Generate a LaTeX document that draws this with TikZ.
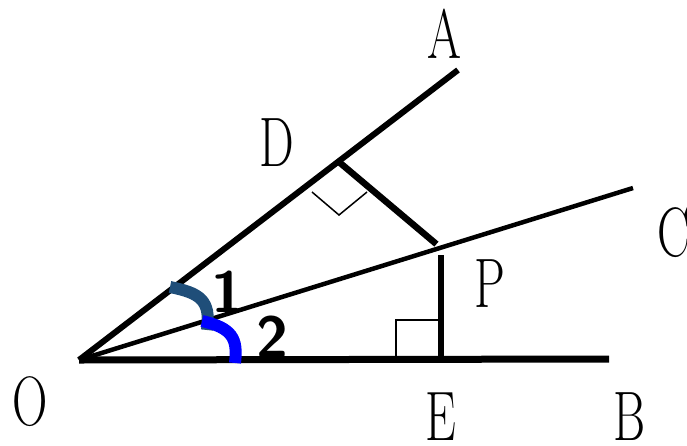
\documentclass[tikz,border=0pt]{standalone}
\usepackage{fontspec}
\usetikzlibrary{positioning}
\definecolor{arcdark}{HTML}{1F4E79}
\definecolor{arcblue}{HTML}{0000FF}

\begin{document}
\begin{tikzpicture}[x=1pt, y=-1pt,
    ray/.style={line width=6pt},
    seg/.style={line width=6.5pt},
    rangle/.style={line width=1.5pt},
    angarc/.style={line width=12pt},
    lbl/.style={font=\fontsize{70}{70}\selectfont, inner sep=0pt},
    num/.style={font=\fontsize{58}{58}\selectfont\sffamily\bfseries, inner sep=0pt}
]
    \useasboundingbox (0,0) rectangle (687,445);

    % points
    \coordinate (O) at (79, 360);
    \coordinate (A) at (458, 70);
    \coordinate (B) at (609, 359);
    \coordinate (C) at (633, 188);
    \coordinate (D) at (339, 162);
    \coordinate (P) at (441, 248);
    \coordinate (E) at (441, 359);

    % rays
    \draw[ray] (O) -- (A);
    \draw[line width=4.5pt] (O) -- (C);
    \draw[line width=7pt] (O) -- (B);

    % perpendiculars
    \draw[seg, shorten >=6pt] (D) -- (P);
    \draw[seg, shorten <=7pt] (P) -- (E);

    % right angle marks
    \draw[rangle] (312, 192) -- (339, 215) -- (367, 192);
    \draw[rangle] (396, 357) -- (396, 320) -- (441, 320);

    % angle marks
    \draw[angarc, arcdark] (170, 287) .. controls (200, 293) and (211, 300) .. (207, 330);
    \draw[angarc, arcblue] (202, 321) .. controls (232, 328) and (238, 338) .. (235, 363);

    % labels
    \node[lbl] (lA) at (444, 34) {\scalebox{0.7}[1]{A}};
    \node[lbl] (lD) at (277, 143) {\scalebox{0.7}[1]{D}};
    \node[lbl] (lC) at (674, 233) {\scalebox{0.7}[1]{C}};
    \node[lbl] (lP) at (490, 284) {\scalebox{0.7}[1]{P}};
    \node[lbl] (lO) at (30, 402) {\scalebox{0.7}[1]{O}};
    \node[lbl] (lE) at (441, 417) {\scalebox{0.7}[1]{E}};
    \node[lbl] (lB) at (630, 417) {\scalebox{0.7}[1]{B}};
    \node[num] (n1) at (227, 292) {1};
    \node[num] (n2) at (272, 337) {2};
\end{tikzpicture}
\end{document}
